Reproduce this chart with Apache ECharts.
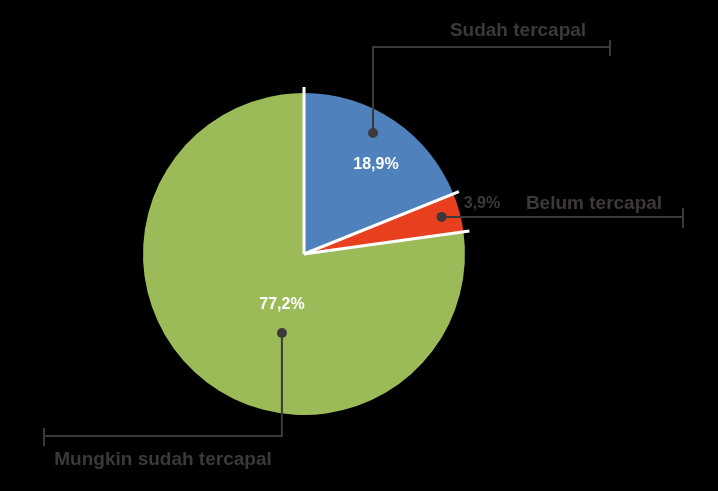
<!DOCTYPE html>
<html>
<head>
<meta charset="utf-8">
<script src="https://cdn.jsdelivr.net/npm/echarts@6/dist/echarts.min.js"></script>
<style>html,body{margin:0;padding:0;background:#000;}#c{width:718px;height:491px;}</style>
</head>
<body>
<div id="c"></div>
<script>
// Data
const categories = ['Sudah tercapal', 'Belum tercapal', 'Mungkin sudah tercapal'];
const values = [18.9, 3.9, 77.2];
const colors = ['#4f81bd', '#e8401e', '#9bbb59'];

// Layout
const CX = 304, CY = 254, R = 161;
const INK = '#3e3939';
const FONT = '"Liberation Sans", Arial, sans-serif';

const chart = echarts.init(document.getElementById('c'));
const total = values.reduce((a, b) => a + b, 0);
const fmt = v => v.toFixed(1).replace('.', ',') + '%';
const rad = d => d * Math.PI / 180;
const pt = (angDeg, r) => [CX + r * Math.cos(rad(angDeg)), CY - r * Math.sin(rad(angDeg))];

// boundary angles (start at 90deg, clockwise)
const bounds = [90];
values.forEach(v => bounds.push(bounds[bounds.length - 1] - v / total * 360));

const g = [];
// white separators along slice boundaries, slightly beyond the rim
for (let i = 0; i < values.length; i++) {
  const e = pt(bounds[i], R + 6);
  g.push({type: 'line', shape: {x1: CX, y1: CY, x2: e[0], y2: e[1]}, style: {stroke: '#fff', lineWidth: 3}, z: 10});
}

// leader annotations (dot angle, radius fraction, path)
const leaders = [
  {ang: 60.3, rf: 0.865, path: d => [[d[0], d[1]], [d[0], 47], [610, 47]], tick: [610, 40, 56],
   text: {x: 518, y: 31, t: categories[0]}},
  {ang: 15.1, rf: 0.885, path: d => [[d[0], d[1]], [683, d[1]]], tick: [683, 208, 228],
   text: {x: 594, y: 204, t: categories[1]}},
  {ang: -105.6, rf: 0.51, path: d => [[d[0], d[1]], [d[0], 436], [44, 436]], tick: [44, 428, 446],
   text: {x: 163, y: 460, t: categories[2]}}
];
leaders.forEach(L => {
  const d = pt(L.ang, L.rf * R);
  g.push({type: 'polyline', shape: {points: L.path(d)}, style: {stroke: INK, lineWidth: 2, fill: null}, z: 11});
  g.push({type: 'line', shape: {x1: L.tick[0], y1: L.tick[1], x2: L.tick[0], y2: L.tick[2]}, style: {stroke: INK, lineWidth: 2}, z: 11});
  g.push({type: 'circle', shape: {cx: d[0], cy: d[1], r: 5}, style: {fill: INK}, z: 12});
  g.push({type: 'text', x: L.text.x, y: L.text.y, style: {text: L.text.t, fill: INK, font: 'bold 19px ' + FONT, align: 'center', verticalAlign: 'middle'}, z: 12});
});

// percentage labels
const pctPos = [[376, 165, '#fff'], [482, 204, INK], [282, 305, '#fff']];
values.forEach((v, i) => {
  g.push({type: 'text', x: pctPos[i][0], y: pctPos[i][1], style: {text: fmt(v), fill: pctPos[i][2], font: 'bold 16px ' + FONT, align: 'center', verticalAlign: 'middle'}, z: 12});
});

chart.setOption({
  backgroundColor: '#000',
  animation: false,
  series: [{
    type: 'pie',
    center: [CX, CY],
    radius: R,
    startAngle: 90,
    clockwise: true,
    label: {show: false},
    labelLine: {show: false},
    silent: true,
    data: categories.map((c, i) => ({name: c, value: values[i], itemStyle: {color: colors[i]}}))
  }],
  graphic: g
});
</script>
</body>
</html>
